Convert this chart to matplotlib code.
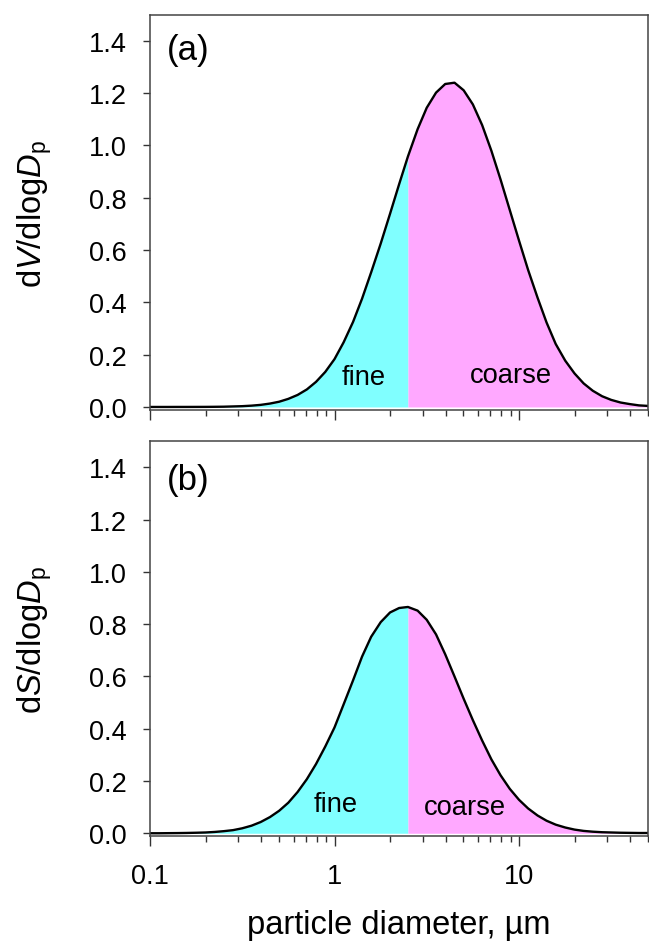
import matplotlib
matplotlib.use("Agg")
import matplotlib.pyplot as plt
from matplotlib.ticker import LogLocator, FixedLocator, NullFormatter, FixedFormatter

# ---------------- data ----------------
diameter = [0.1, 0.112, 0.126, 0.141, 0.158, 0.178, 0.2, 0.224, 0.251, 0.282,
            0.316, 0.355, 0.398, 0.447, 0.501, 0.562, 0.631, 0.708, 0.794, 0.891,
            1.0, 1.12, 1.26, 1.41, 1.58, 1.78, 2.0, 2.24, 2.5, 2.82,
            3.16, 3.55, 3.98, 4.47, 5.01, 5.62, 6.31, 7.08, 7.94, 8.91,
            10.0, 11.2, 12.6, 14.1, 15.8, 17.8, 20.0, 22.4, 25.1, 28.2,
            31.6, 35.5, 39.8, 44.7, 50.0]

dV_dlogDp = [0.000, 0.000, 0.000, 0.0001, 0.0001, 0.0002, 0.0003, 0.0006, 0.001, 0.002,
             0.003, 0.005, 0.008, 0.013, 0.020, 0.031, 0.046, 0.067, 0.096, 0.134,
             0.183, 0.247, 0.325, 0.414, 0.515, 0.625, 0.739, 0.852, 0.958, 1.062,
             1.144, 1.202, 1.235, 1.240, 1.211, 1.157, 1.078, 0.980, 0.870, 0.753,
             0.636, 0.524, 0.418, 0.323, 0.241, 0.177, 0.128, 0.090, 0.062, 0.041,
             0.027, 0.017, 0.011, 0.006, 0.004]

dS_dlogDp = [0.000, 0.000, 0.0004, 0.0007, 0.0012, 0.002, 0.003, 0.005, 0.008, 0.012,
             0.019, 0.029, 0.043, 0.062, 0.086, 0.117, 0.158, 0.207, 0.265, 0.332,
             0.405, 0.493, 0.585, 0.676, 0.752, 0.808, 0.845, 0.862, 0.866, 0.852,
             0.817, 0.761, 0.685, 0.600, 0.515, 0.433, 0.355, 0.283, 0.222, 0.170,
             0.128, 0.095, 0.068, 0.048, 0.033, 0.022, 0.014, 0.009, 0.006, 0.004,
             0.003, 0.002, 0.0015, 0.001, 0.001]

cutoff = 2.5
x_major = [0.1, 1, 10]
x_major_labels = ["0.1", "1", "10"]
y_ticks = [0.0, 0.2, 0.4, 0.6, 0.8, 1.0, 1.2, 1.4]
panel_labels = ["(a)", "(b)"]
panel_label_y = [0.888, 0.879]
ylabels = [r"d$\mathit{V}$/dlog$\mathit{D}$$_{\mathrm{p}}$",
           r"d$\mathit{S}$/dlog$\mathit{D}$$_{\mathrm{p}}$"]
fine_pos = [(1.445, 0.115), (1.02, 0.112)]
coarse_pos = [(9.06, 0.122), (5.1, 0.100)]

# ---------------- style ----------------
plt.rcParams['font.family'] = ['Liberation Sans', 'DejaVu Sans']
plt.rcParams['mathtext.fontset'] = 'custom'
plt.rcParams['mathtext.rm'] = 'Liberation Sans'
plt.rcParams['mathtext.it'] = 'Liberation Sans:italic'
plt.rcParams['mathtext.bf'] = 'Liberation Sans:bold'

CYAN = '#80FFFF'
PINK = '#FFA8FF'

fig = plt.figure(figsize=(6.49, 9.45), dpi=100)
W, H = 649.0, 945.0
ax_a = fig.add_axes([150 / W, 1 - 411.1 / H, 498 / W, (411.1 - 15.7) / H])
ax_b = fig.add_axes([150 / W, 1 - 837.4 / H, 498 / W, (837.4 - 442.3) / H])

series = [dV_dlogDp, dS_dlogDp]
for i, (ax, vv) in enumerate(zip([ax_a, ax_b], series)):
    dd = diameter
    left_x = [x for x in dd if x <= cutoff]
    left_y = [y for x, y in zip(dd, vv) if x <= cutoff]
    right_x = [x for x in dd if x >= cutoff]
    right_y = [y for x, y in zip(dd, vv) if x >= cutoff]
    ax.fill_between(left_x, 0, left_y, color=CYAN, lw=0)
    ax.fill_between(right_x, 0, right_y, color=PINK, lw=0)
    ax.plot(dd, vv, color='black', lw=1.7, solid_joinstyle='round')

    ax.set_xscale('log')
    ax.set_xlim(0.1, 50)
    ax.set_ylim(-0.012, 1.5)
    ax.xaxis.set_major_locator(FixedLocator(x_major))
    ax.xaxis.set_minor_locator(LogLocator(base=10, subs=range(2, 10)))
    ax.xaxis.set_minor_formatter(NullFormatter())
    if i == 1:
        ax.xaxis.set_major_formatter(FixedFormatter(x_major_labels))
    else:
        ax.xaxis.set_major_formatter(NullFormatter())
    ax.set_yticks(y_ticks)
    ax.set_yticklabels([f"{t:.1f}" for t in y_ticks])
    ax.tick_params(axis='y', which='major', direction='out', length=5, width=1,
                   labelsize=19.5, pad=12, color='#333333')
    ax.tick_params(axis='x', which='major', direction='out', length=7, width=1,
                   labelsize=19.5, pad=12, color='#333333')
    ax.tick_params(axis='x', which='minor', direction='out', length=4, width=1,
                   color='#333333')
    for sp in ax.spines.values():
        sp.set_color('#444444')
        sp.set_linewidth(1.1)

    ax.set_ylabel(ylabels[i], fontsize=23.5)
    ax.yaxis.set_label_coords(-0.193, 0.5)
    ax.text(0.034, panel_label_y[i], panel_labels[i], transform=ax.transAxes,
            fontsize=25, ha='left', va='baseline')
    ax.text(fine_pos[i][0], fine_pos[i][1], "fine", fontsize=19.7, ha='center',
            va='center')
    ax.text(coarse_pos[i][0], coarse_pos[i][1], "coarse", fontsize=19.7, ha='center',
            va='center')

ax_b.set_xlabel("particle diameter, \u00b5m", fontsize=23.5)
ax_b.xaxis.set_label_coords(0.5, -0.185)

fig.savefig("out.png", dpi=100)
